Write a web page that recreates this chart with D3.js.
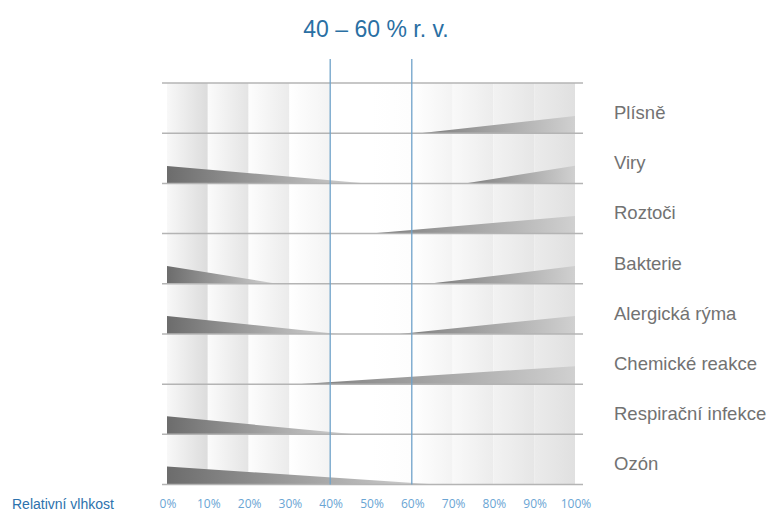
<!DOCTYPE html>
<html>
<head>
<meta charset="utf-8">
<script src="https://cdn.jsdelivr.net/npm/d3@7"></script>
<style>
  body { margin: 0; background: #fff; }
  svg { display: block; }
</style>
</head>
<body>
<div id="chart"></div>
<script>
// data
const categories = ["Plísně", "Viry", "Roztoči", "Bakterie", "Alergická rýma", "Chemické reakce", "Respirační infekce", "Ozón"];
// left wedge: level at 0 % r. v. and where it runs out (null = no wedge)
const leftLevel = [0, 96, 0, 98, 100, 0, 100, 100];
const leftEnd = [null, 49, null, 27, 42, null, 46, 66];
// right wedge: where it starts and level at 100 % r. v.
const rightStart = [62, 73, 50, 64, 57, 32, null, null];
const rightLevel = [95, 98, 98, 98, 100, 100, 0, 0];
const ticks = [0, 10, 20, 30, 40, 50, 60, 70, 80, 90, 100];
const tickLabels = ticks.map(t => t + "%");
const optimum = [40, 60];
const title = "40 – 60 % r. v.";
const axisTitle = "Relativní vlhkost";

const W = 781, H = 513;

const svg = d3.select("#chart").append("svg")
  .attr("width", W)
  .attr("height", H);

const x = d3.scaleLinear().domain([0, 100]).range([167, 575]);
const y = d3.scaleBand().domain(categories).range([83, 484.5]).padding(0);
const lvl = d3.scaleLinear().domain([0, 100]).range([0, 18]);

const defs = svg.append("defs");

// background columns, light on the left getting darker to the right
const colShade = [
  ["#f8f8f8", "#dcdcdc"], ["#fbfbfb", "#e4e4e4"], ["#fdfdfd", "#ebebeb"], ["#ffffff", "#f3f3f3"],
  ["#ffffff", "#ffffff"], ["#ffffff", "#fdfdfd"], ["#ffffff", "#f3f3f3"], ["#f9f9f9", "#ececec"],
  ["#f2f2f2", "#e6e6e6"], ["#ebebeb", "#e0e0e0"]
];
const cols = ticks.slice(0, -1).map((t, i) => ({ from: t, to: ticks[i + 1], shade: colShade[i] }));

cols.forEach((c, i) => {
  const g = defs.append("linearGradient").attr("id", "col" + i)
    .attr("x1", 0).attr("x2", 1).attr("y1", 0).attr("y2", 0);
  g.append("stop").attr("offset", "0%").attr("stop-color", c.shade[0]);
  g.append("stop").attr("offset", "100%").attr("stop-color", c.shade[1]);
});

svg.append("g").selectAll("rect")
  .data(cols)
  .enter()
  .append("rect")
  .attr("x", d => x(d.from))
  .attr("y", y.range()[0])
  .attr("width", d => x(d.to) - x(d.from))
  .attr("height", y.range()[1] - y.range()[0])
  .attr("fill", (d, i) => `url(#col${i})`);

// wedge gradients
const gl = defs.append("linearGradient").attr("id", "wedgeL")
  .attr("x1", 0).attr("x2", 1).attr("y1", 0).attr("y2", 0);
gl.append("stop").attr("offset", "0%").attr("stop-color", "#6c6c6c");
gl.append("stop").attr("offset", "100%").attr("stop-color", "#d4d4d4");
const gr = defs.append("linearGradient").attr("id", "wedgeR")
  .attr("x1", 0).attr("x2", 1).attr("y1", 0).attr("y2", 0);
gr.append("stop").attr("offset", "0%").attr("stop-color", "#7c7c7c");
gr.append("stop").attr("offset", "100%").attr("stop-color", "#d0d0d0");

const rows = categories.map((name, i) => ({
  name,
  left: leftEnd[i] == null ? null : [[0, 0], [0, leftLevel[i]], [leftEnd[i], 0]],
  right: rightStart[i] == null ? null : [[rightStart[i], 0], [100, rightLevel[i]], [100, 0]]
}));

const area = (cat) => pts => "M" + pts.map(p => [x(p[0]), y(cat) + y.bandwidth() - lvl(p[1])].join(",")).join("L") + "Z";

const rowG = svg.append("g").selectAll("g")
  .data(rows)
  .enter()
  .append("g");

rowG.filter(d => d.left)
  .append("path")
  .attr("d", d => area(d.name)(d.left))
  .attr("fill", "url(#wedgeL)");

rowG.filter(d => d.right)
  .append("path")
  .attr("d", d => area(d.name)(d.right))
  .attr("fill", "url(#wedgeR)");

// horizontal separators
const seps = [categories[0]].map(c => y(c)).concat(categories.map(c => y(c) + y.bandwidth()));
svg.append("g").selectAll("line")
  .data(seps)
  .enter()
  .append("line")
  .attr("x1", x(0) - 5)
  .attr("x2", x(100) + 8)
  .attr("y1", d => d)
  .attr("y2", d => d)
  .style("stroke", "#b4b4b4")
  .style("stroke-width", 1.5);

// category labels
rowG.append("text")
  .text(d => d.name)
  .attr("x", 614)
  .attr("y", d => y(d.name) + y.bandwidth() / 2 + 11)
  .style("font-family", "'Liberation Sans', Arial, sans-serif")
  .style("font-size", "18.5px")
  .style("fill", "#727272");

// optimum range lines
svg.append("g").selectAll("line")
  .data(optimum)
  .enter()
  .append("line")
  .attr("x1", d => x(d))
  .attr("x2", d => x(d))
  .attr("y1", 59)
  .attr("y2", y.range()[1])
  .style("stroke", "#6fa2c9")
  .style("stroke-width", 1.3);

svg.append("text")
  .text(title)
  .attr("x", (x(optimum[0]) + x(optimum[1])) / 2 + 5)
  .attr("y", 37)
  .attr("text-anchor", "middle")
  .style("font-family", "'Liberation Sans', Arial, sans-serif")
  .style("font-size", "23px")
  .style("fill", "#2a6fa3");

// x axis labels
svg.append("g").selectAll("text")
  .data(ticks)
  .enter()
  .append("text")
  .text((d, i) => tickLabels[i])
  .attr("x", d => x(d) + 1)
  .attr("y", 508)
  .attr("text-anchor", "middle")
  .style("font-family", "'Open Sans', sans-serif")
  .style("font-size", "12px")
  .style("fill", "#6aa5d4");

svg.append("text")
  .text(axisTitle)
  .attr("x", 12)
  .attr("y", 509)
  .style("font-family", "'Liberation Sans', Arial, sans-serif")
  .style("font-size", "14px")
  .style("fill", "#2d72ad");
</script>
</body>
</html>
